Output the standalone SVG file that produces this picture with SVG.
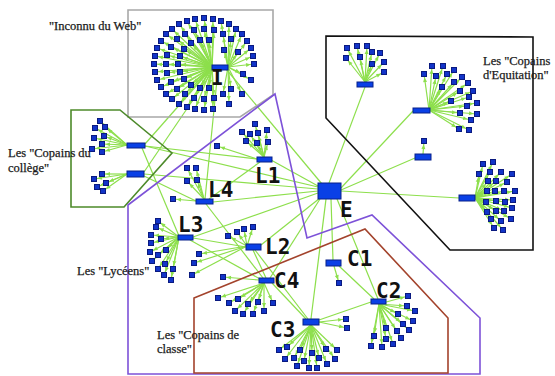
<svg xmlns="http://www.w3.org/2000/svg" width="555" height="376" viewBox="0 0 555 376">
<defs>
<style>
.le{stroke:#8ddf4c;stroke-width:1.2;fill:none;marker-end:url(#ar)}
.he{stroke:#8ddf4c;stroke-width:1.2;fill:none}
.hub{fill:#0a40e6;stroke:#08208a;stroke-width:1}
.rg{fill:none;stroke-width:1.6}
.t{font-family:"Liberation Serif","Times New Roman",serif;font-size:12.5px;fill:#1a1a1a;stroke:#1a1a1a;stroke-width:0.25}
.lb{font-family:"DejaVu Sans Mono",monospace;font-size:21px;font-weight:bold;fill:#111}
</style>
<marker id="ar" markerWidth="6" markerHeight="5" refX="8" refY="2" orient="auto" markerUnits="userSpaceOnUse" overflow="visible"><path d="M0,0L4.5,2L0,4z" fill="#8ddf4c"/></marker>
<rect id="l" x="-2.5" y="-2.5" width="5" height="5" fill="#1234c8" stroke="#0a1a80" stroke-width="1"/>
</defs>
<rect width="555" height="376" fill="#fff"/>
<g id="connectors">
<path class="he" d="M322 184L226 69"/><path class="he" d="M329 183L365 87"/><path class="he" d="M341 188L413 111"/><path class="he" d="M341 190L415 158"/><path class="he" d="M341 191L459 198"/><path class="he" d="M318 186L271 160"/><path class="he" d="M318 187L145 146"/><path class="he" d="M318 189L144 174"/><path class="he" d="M318 191L213 202"/><path class="he" d="M318 193L193 237"/><path class="he" d="M320 198L261 245"/><path class="he" d="M331 199L333 260"/><path class="he" d="M326 199L311 319"/><path class="he" d="M337 199L378 299"/><path class="he" d="M320 199L270 278"/><path class="he" d="M212 68L145 144"/><path class="he" d="M214 69L144 172"/><path class="he" d="M218 70L205 199"/><path class="he" d="M145 146L257 159"/><path class="he" d="M142 148L179 236"/><path class="he" d="M260 162L209 199"/><path class="he" d="M193 238L246 247"/><path class="he" d="M190 240L260 279"/><path class="he" d="M206 204L263 278"/><path class="he" d="M255 250L308 319"/><path class="he" d="M253 250L266 278"/><path class="he" d="M272 283L306 319"/><path class="he" d="M319 320L371 302"/><path class="he" d="M339 266L374 299"/><path class="he" d="M144 176L196 201"/>
<path class="le" d="M228 67L254 64"/><path class="le" d="M228 67L253 56"/><path class="le" d="M228 67L251 48"/><path class="le" d="M228 67L247 41"/><path class="le" d="M228 67L242 34"/><path class="le" d="M228 67L236 29"/><path class="le" d="M228 67L229 24"/><path class="le" d="M228 67L221 21"/><path class="le" d="M228 67L229 104"/><path class="le" d="M228 67L242 94"/><path class="le" d="M228 67L251 80"/><path class="le" d="M228 67L231 39"/><path class="le" d="M228 67L223 34"/><path class="le" d="M228 67L223 94"/><path class="le" d="M228 67L231 89"/><path class="le" d="M228 67L238 52"/><path class="le" d="M228 67L243 74"/><path class="le" d="M228 67L224 50"/>
<path class="le" d="M212 67L213 19"/><path class="le" d="M212 67L204 18"/><path class="le" d="M212 67L195 19"/><path class="le" d="M212 67L187 21"/><path class="le" d="M212 67L179 24"/><path class="le" d="M212 67L172 29"/><path class="le" d="M212 67L166 34"/><path class="le" d="M212 67L161 41"/><path class="le" d="M212 67L157 48"/><path class="le" d="M212 67L155 56"/><path class="le" d="M212 67L154 64"/><path class="le" d="M212 67L155 72"/><path class="le" d="M212 67L157 80"/><path class="le" d="M212 67L161 87"/><path class="le" d="M212 67L166 94"/><path class="le" d="M212 67L172 99"/><path class="le" d="M212 67L179 104"/><path class="le" d="M212 67L187 107"/><path class="le" d="M212 67L195 109"/><path class="le" d="M212 67L204 110"/><path class="le" d="M212 67L213 109"/><path class="le" d="M212 67L214 30"/><path class="le" d="M212 67L204 29"/><path class="le" d="M212 67L194 30"/><path class="le" d="M212 67L185 34"/><path class="le" d="M212 67L177 39"/><path class="le" d="M212 67L171 47"/><path class="le" d="M212 67L167 55"/><path class="le" d="M212 67L166 64"/><path class="le" d="M212 67L167 73"/><path class="le" d="M212 67L171 82"/><path class="le" d="M212 67L177 89"/><path class="le" d="M212 67L185 94"/><path class="le" d="M212 67L194 98"/><path class="le" d="M212 67L204 99"/><path class="le" d="M212 67L214 98"/><path class="le" d="M212 67L209 40"/><path class="le" d="M212 67L200 40"/><path class="le" d="M212 67L191 43"/><path class="le" d="M212 67L184 49"/><path class="le" d="M212 67L180 56"/><path class="le" d="M212 67L178 64"/><path class="le" d="M212 67L180 72"/><path class="le" d="M212 67L184 79"/><path class="le" d="M212 67L191 85"/><path class="le" d="M212 67L200 88"/><path class="le" d="M212 67L209 88"/>
<path class="le" d="M365 82L347 48"/><path class="le" d="M365 82L357 46"/><path class="le" d="M365 82L367 46"/><path class="le" d="M365 82L346 58"/><path class="le" d="M365 82L360 57"/><path class="le" d="M365 82L372 52"/><path class="le" d="M365 82L380 53"/><path class="le" d="M365 82L372 64"/><path class="le" d="M365 82L384 62"/><path class="le" d="M365 82L384 72"/>
<path class="le" d="M429 110L432 66"/><path class="le" d="M429 110L443 66"/><path class="le" d="M429 110L454 70"/><path class="le" d="M429 110L424 74"/><path class="le" d="M429 110L436 76"/><path class="le" d="M429 110L447 74"/><path class="le" d="M429 110L462 77"/><path class="le" d="M429 110L454 82"/><path class="le" d="M429 110L468 83"/><path class="le" d="M429 110L442 87"/><path class="le" d="M429 110L460 91"/><path class="le" d="M429 110L473 91"/><path class="le" d="M429 110L469 97"/><path class="le" d="M429 110L451 101"/><path class="le" d="M429 110L477 103"/><path class="le" d="M429 110L467 106"/><path class="le" d="M429 110L460 113"/><path class="le" d="M429 110L477 114"/><path class="le" d="M429 110L471 120"/><path class="le" d="M429 110L459 129"/><path class="le" d="M429 110L469 130"/>
<path class="le" d="M423 154L424 141"/>
<path class="le" d="M475 198L483 164"/><path class="le" d="M475 198L493 162"/><path class="le" d="M475 198L479 174"/><path class="le" d="M475 198L490 172"/><path class="le" d="M475 198L501 172"/><path class="le" d="M475 198L512 174"/><path class="le" d="M475 198L488 181"/><path class="le" d="M475 198L496 181"/><path class="le" d="M475 198L507 182"/><path class="le" d="M475 198L487 191"/><path class="le" d="M475 198L495 191"/><path class="le" d="M475 198L504 191"/><path class="le" d="M475 198L515 191"/><path class="le" d="M475 198L486 202"/><path class="le" d="M475 198L496 201"/><path class="le" d="M475 198L505 202"/><path class="le" d="M475 198L513 200"/><path class="le" d="M475 198L487 212"/><path class="le" d="M475 198L496 211"/><path class="le" d="M475 198L504 211"/><path class="le" d="M475 198L512 208"/><path class="le" d="M475 198L491 219"/><path class="le" d="M475 198L501 221"/><path class="le" d="M475 198L511 219"/><path class="le" d="M475 198L494 228"/><path class="le" d="M475 198L503 230"/>
<path class="le" d="M127 145L100 121"/><path class="le" d="M127 145L95 128"/><path class="le" d="M127 145L105 127"/><path class="le" d="M127 145L94 138"/><path class="le" d="M127 145L104 136"/><path class="le" d="M127 145L102 144"/><path class="le" d="M127 145L92 149"/><path class="le" d="M127 145L102 152"/>
<path class="le" d="M127 174L102 174"/><path class="le" d="M127 174L94 179"/><path class="le" d="M127 174L106 183"/><path class="le" d="M127 174L97 187"/><path class="le" d="M127 174L103 191"/>
<path class="le" d="M264 157L255 124"/><path class="le" d="M264 157L242 132"/><path class="le" d="M264 157L250 134"/><path class="le" d="M264 157L258 133"/><path class="le" d="M264 157L267 130"/><path class="le" d="M264 157L246 141"/><path class="le" d="M264 157L257 143"/><path class="le" d="M264 157L268 142"/><path class="le" d="M257 159L217 146"/>
<path class="le" d="M204 199L187 168"/><path class="le" d="M204 199L196 168"/><path class="le" d="M204 199L187 181"/><path class="le" d="M204 199L197 180"/><path class="le" d="M196 201L173 199"/>
<path class="le" d="M179 237L158 221"/><path class="le" d="M179 237L156 227"/><path class="le" d="M179 237L151 235"/><path class="le" d="M179 237L161 239"/><path class="le" d="M179 237L151 243"/><path class="le" d="M179 237L166 250"/><path class="le" d="M179 237L150 252"/><path class="le" d="M179 237L158 255"/><path class="le" d="M179 237L152 261"/><path class="le" d="M179 237L165 264"/><path class="le" d="M179 237L158 269"/><path class="le" d="M179 237L173 269"/><path class="le" d="M179 237L164 275"/><path class="le" d="M179 237L171 280"/>
<path class="le" d="M247 246L228 236"/><path class="le" d="M247 246L237 232"/><path class="le" d="M247 246L244 229"/><path class="le" d="M247 246L253 227"/><path class="le" d="M247 246L199 254"/><path class="le" d="M247 246L194 263"/><path class="le" d="M247 246L192 275"/>
<path class="le" d="M259 280L223 277"/><path class="le" d="M264 283L218 298"/><path class="le" d="M264 283L229 303"/><path class="le" d="M264 283L238 299"/><path class="le" d="M264 283L248 304"/><path class="le" d="M264 283L258 302"/><path class="le" d="M264 283L273 303"/><path class="le" d="M264 283L235 311"/><path class="le" d="M264 283L243 314"/><path class="le" d="M264 283L253 314"/><path class="le" d="M264 283L264 311"/>
<path class="le" d="M334 266L339 283"/>
<path class="le" d="M379 304L408 296"/><path class="le" d="M379 304L407 306"/><path class="le" d="M379 304L415 311"/><path class="le" d="M379 304L398 314"/><path class="le" d="M379 304L413 321"/><path class="le" d="M379 304L403 324"/><path class="le" d="M379 304L409 330"/><path class="le" d="M379 304L386 328"/><path class="le" d="M379 304L397 331"/><path class="le" d="M379 304L374 336"/><path class="le" d="M379 304L386 339"/><path class="le" d="M379 304L401 338"/><path class="le" d="M379 304L371 346"/><path class="le" d="M379 304L382 347"/><path class="le" d="M379 304L393 344"/>
<path class="le" d="M311 325L279 350"/><path class="le" d="M311 325L287 347"/><path class="le" d="M311 325L300 350"/><path class="le" d="M311 325L312 353"/><path class="le" d="M311 325L326 349"/><path class="le" d="M311 325L337 350"/><path class="le" d="M311 325L285 359"/><path class="le" d="M311 325L294 358"/><path class="le" d="M311 325L304 361"/><path class="le" d="M311 325L319 358"/><path class="le" d="M311 325L335 359"/><path class="le" d="M311 325L297 366"/><path class="le" d="M311 325L309 368"/><path class="le" d="M311 325L317 368"/><path class="le" d="M311 325L327 364"/><path class="le" d="M319 322L346 319"/><path class="le" d="M319 322L347 328"/>
</g>
<g id="regions">
<polygon id="r-web" class="rg" stroke="#a8a8a8" points="128,10 273,10 273,95 240,117 128,117"/>
<polygon id="r-equitation" class="rg" stroke="#111" stroke-width="2" points="326,36 533,37 533,250 450,250 326,118"/>
<polygon id="r-college" class="rg" stroke="#4d8a2a" points="71,110 120,110 172,153 124,207 71,207"/>
<polygon id="r-lycee" class="rg" stroke="#7d52d8" points="128,205 275,94 307,238 372,215 480,318 480,374 128,374"/>
<polygon id="r-classe" class="rg" stroke="#a3432c" points="194,298 365,229 448,318 448,373 194,373"/>
</g>
<g id="hubs">
<g id="hub-I"><rect class="hub" x="212" y="65" width="16" height="5"/></g>
<g id="hub-E"><rect class="hub" x="318" y="183" width="23" height="16"/></g>
<g id="hub-col1"><rect class="hub" x="127" y="143" width="18" height="5"/></g>
<g id="hub-col2"><rect class="hub" x="127" y="171" width="17" height="6"/></g>
<g id="hub-eq1"><rect class="hub" x="357" y="82" width="16" height="5"/></g>
<g id="hub-eq2"><rect class="hub" x="413" y="108" width="17" height="5"/></g>
<g id="hub-eq3"><rect class="hub" x="415" y="154" width="16" height="6"/></g>
<g id="hub-eq4"><rect class="hub" x="459" y="195" width="16" height="6"/></g>
<g id="hub-L1"><rect class="hub" x="257" y="157" width="15" height="5"/></g>
<g id="hub-L4"><rect class="hub" x="196" y="199" width="17" height="5"/></g>
<g id="hub-L3"><rect class="hub" x="178" y="235" width="15" height="5"/></g>
<g id="hub-L2"><rect class="hub" x="246" y="244" width="15" height="6"/></g>
<g id="hub-C4"><rect class="hub" x="259" y="278" width="15" height="5"/></g>
<g id="hub-C1"><rect class="hub" x="326" y="260" width="15" height="6"/></g>
<g id="hub-C2"><rect class="hub" x="371" y="299" width="15" height="5"/></g>
<g id="hub-C3"><rect class="hub" x="303" y="319" width="16" height="6"/></g>
</g>
<g id="leaves">
<g id="i1"><use href="#l" x="254" y="64"/></g><g id="i2"><use href="#l" x="253" y="56"/></g><g id="i3"><use href="#l" x="251" y="48"/></g><g id="i4"><use href="#l" x="247" y="41"/></g><g id="i5"><use href="#l" x="242" y="34"/></g><g id="i6"><use href="#l" x="236" y="29"/></g><g id="i7"><use href="#l" x="229" y="24"/></g><g id="i8"><use href="#l" x="221" y="21"/></g><g id="i9"><use href="#l" x="229" y="104"/></g><g id="i10"><use href="#l" x="242" y="94"/></g><g id="i11"><use href="#l" x="251" y="80"/></g><g id="i12"><use href="#l" x="231" y="39"/></g><g id="i13"><use href="#l" x="223" y="34"/></g><g id="i14"><use href="#l" x="223" y="94"/></g><g id="i15"><use href="#l" x="231" y="89"/></g><g id="i16"><use href="#l" x="238" y="52"/></g><g id="i17"><use href="#l" x="243" y="74"/></g><g id="i18"><use href="#l" x="224" y="50"/></g>
<g id="i19"><use href="#l" x="213" y="19"/></g><g id="i20"><use href="#l" x="204" y="18"/></g><g id="i21"><use href="#l" x="195" y="19"/></g><g id="i22"><use href="#l" x="187" y="21"/></g><g id="i23"><use href="#l" x="179" y="24"/></g><g id="i24"><use href="#l" x="172" y="29"/></g><g id="i25"><use href="#l" x="166" y="34"/></g><g id="i26"><use href="#l" x="161" y="41"/></g><g id="i27"><use href="#l" x="157" y="48"/></g><g id="i28"><use href="#l" x="155" y="56"/></g><g id="i29"><use href="#l" x="154" y="64"/></g><g id="i30"><use href="#l" x="155" y="72"/></g><g id="i31"><use href="#l" x="157" y="80"/></g><g id="i32"><use href="#l" x="161" y="87"/></g><g id="i33"><use href="#l" x="166" y="94"/></g><g id="i34"><use href="#l" x="172" y="99"/></g><g id="i35"><use href="#l" x="179" y="104"/></g><g id="i36"><use href="#l" x="187" y="107"/></g><g id="i37"><use href="#l" x="195" y="109"/></g><g id="i38"><use href="#l" x="204" y="110"/></g><g id="i39"><use href="#l" x="213" y="109"/></g>
<g id="i40"><use href="#l" x="214" y="30"/></g><g id="i41"><use href="#l" x="204" y="29"/></g><g id="i42"><use href="#l" x="194" y="30"/></g><g id="i43"><use href="#l" x="185" y="34"/></g><g id="i44"><use href="#l" x="177" y="39"/></g><g id="i45"><use href="#l" x="171" y="47"/></g><g id="i46"><use href="#l" x="167" y="55"/></g><g id="i47"><use href="#l" x="166" y="64"/></g><g id="i48"><use href="#l" x="167" y="73"/></g><g id="i49"><use href="#l" x="171" y="82"/></g><g id="i50"><use href="#l" x="177" y="89"/></g><g id="i51"><use href="#l" x="185" y="94"/></g><g id="i52"><use href="#l" x="194" y="98"/></g><g id="i53"><use href="#l" x="204" y="99"/></g><g id="i54"><use href="#l" x="214" y="98"/></g>
<g id="i55"><use href="#l" x="209" y="40"/></g><g id="i56"><use href="#l" x="200" y="40"/></g><g id="i57"><use href="#l" x="191" y="43"/></g><g id="i58"><use href="#l" x="184" y="49"/></g><g id="i59"><use href="#l" x="180" y="56"/></g><g id="i60"><use href="#l" x="178" y="64"/></g><g id="i61"><use href="#l" x="180" y="72"/></g><g id="i62"><use href="#l" x="184" y="79"/></g><g id="i63"><use href="#l" x="191" y="85"/></g><g id="i64"><use href="#l" x="200" y="88"/></g><g id="i65"><use href="#l" x="209" y="88"/></g>
<g id="q1"><use href="#l" x="347" y="48"/></g><g id="q2"><use href="#l" x="357" y="46"/></g><g id="q3"><use href="#l" x="367" y="46"/></g><g id="q4"><use href="#l" x="346" y="58"/></g><g id="q5"><use href="#l" x="360" y="57"/></g><g id="q6"><use href="#l" x="372" y="52"/></g><g id="q7"><use href="#l" x="380" y="53"/></g><g id="q8"><use href="#l" x="372" y="64"/></g><g id="q9"><use href="#l" x="384" y="62"/></g><g id="q10"><use href="#l" x="384" y="72"/></g>
<g id="r1"><use href="#l" x="432" y="66"/></g><g id="r2"><use href="#l" x="443" y="66"/></g><g id="r3"><use href="#l" x="454" y="70"/></g><g id="r4"><use href="#l" x="424" y="74"/></g><g id="r5"><use href="#l" x="436" y="76"/></g><g id="r6"><use href="#l" x="447" y="74"/></g><g id="r7"><use href="#l" x="462" y="77"/></g><g id="r8"><use href="#l" x="454" y="82"/></g><g id="r9"><use href="#l" x="468" y="83"/></g><g id="r10"><use href="#l" x="442" y="87"/></g><g id="r11"><use href="#l" x="460" y="91"/></g><g id="r12"><use href="#l" x="473" y="91"/></g><g id="r13"><use href="#l" x="469" y="97"/></g><g id="r14"><use href="#l" x="451" y="101"/></g><g id="r15"><use href="#l" x="477" y="103"/></g><g id="r16"><use href="#l" x="467" y="106"/></g><g id="r17"><use href="#l" x="460" y="113"/></g><g id="r18"><use href="#l" x="477" y="114"/></g><g id="r19"><use href="#l" x="471" y="120"/></g><g id="r20"><use href="#l" x="459" y="129"/></g><g id="r21"><use href="#l" x="469" y="130"/></g>
<g id="s1"><use href="#l" x="424" y="141"/></g>
<g id="t1"><use href="#l" x="483" y="164"/></g><g id="t2"><use href="#l" x="493" y="162"/></g><g id="t3"><use href="#l" x="479" y="174"/></g><g id="t4"><use href="#l" x="490" y="172"/></g><g id="t5"><use href="#l" x="501" y="172"/></g><g id="t6"><use href="#l" x="512" y="174"/></g><g id="t7"><use href="#l" x="488" y="181"/></g><g id="t8"><use href="#l" x="496" y="181"/></g><g id="t9"><use href="#l" x="507" y="182"/></g><g id="t10"><use href="#l" x="487" y="191"/></g><g id="t11"><use href="#l" x="495" y="191"/></g><g id="t12"><use href="#l" x="504" y="191"/></g><g id="t13"><use href="#l" x="515" y="191"/></g><g id="t14"><use href="#l" x="486" y="202"/></g><g id="t15"><use href="#l" x="496" y="201"/></g><g id="t16"><use href="#l" x="505" y="202"/></g><g id="t17"><use href="#l" x="513" y="200"/></g><g id="t18"><use href="#l" x="487" y="212"/></g><g id="t19"><use href="#l" x="496" y="211"/></g><g id="t20"><use href="#l" x="504" y="211"/></g><g id="t21"><use href="#l" x="512" y="208"/></g><g id="t22"><use href="#l" x="491" y="219"/></g><g id="t23"><use href="#l" x="501" y="221"/></g><g id="t24"><use href="#l" x="511" y="219"/></g><g id="t25"><use href="#l" x="494" y="228"/></g><g id="t26"><use href="#l" x="503" y="230"/></g>
<g id="k1"><use href="#l" x="100" y="121"/></g><g id="k2"><use href="#l" x="95" y="128"/></g><g id="k3"><use href="#l" x="105" y="127"/></g><g id="k4"><use href="#l" x="94" y="138"/></g><g id="k5"><use href="#l" x="104" y="136"/></g><g id="k6"><use href="#l" x="102" y="144"/></g><g id="k7"><use href="#l" x="92" y="149"/></g><g id="k8"><use href="#l" x="102" y="152"/></g>
<g id="m1"><use href="#l" x="102" y="174"/></g><g id="m2"><use href="#l" x="94" y="179"/></g><g id="m3"><use href="#l" x="106" y="183"/></g><g id="m4"><use href="#l" x="97" y="187"/></g><g id="m5"><use href="#l" x="103" y="191"/></g>
<g id="a1"><use href="#l" x="255" y="124"/></g><g id="a2"><use href="#l" x="242" y="132"/></g><g id="a3"><use href="#l" x="250" y="134"/></g><g id="a4"><use href="#l" x="258" y="133"/></g><g id="a5"><use href="#l" x="267" y="130"/></g><g id="a6"><use href="#l" x="246" y="141"/></g><g id="a7"><use href="#l" x="257" y="143"/></g><g id="a8"><use href="#l" x="268" y="142"/></g><g id="a9"><use href="#l" x="217" y="146"/></g>
<g id="d1"><use href="#l" x="187" y="168"/></g><g id="d2"><use href="#l" x="196" y="168"/></g><g id="d3"><use href="#l" x="187" y="181"/></g><g id="d4"><use href="#l" x="197" y="180"/></g><g id="d5"><use href="#l" x="173" y="199"/></g>
<g id="c1"><use href="#l" x="158" y="221"/></g><g id="c2"><use href="#l" x="156" y="227"/></g><g id="c3"><use href="#l" x="151" y="235"/></g><g id="c4"><use href="#l" x="161" y="239"/></g><g id="c5"><use href="#l" x="151" y="243"/></g><g id="c6"><use href="#l" x="166" y="250"/></g><g id="c7"><use href="#l" x="150" y="252"/></g><g id="c8"><use href="#l" x="158" y="255"/></g><g id="c9"><use href="#l" x="152" y="261"/></g><g id="c10"><use href="#l" x="165" y="264"/></g><g id="c11"><use href="#l" x="158" y="269"/></g><g id="c12"><use href="#l" x="173" y="269"/></g><g id="c13"><use href="#l" x="164" y="275"/></g><g id="c14"><use href="#l" x="171" y="280"/></g>
<g id="b1"><use href="#l" x="228" y="236"/></g><g id="b2"><use href="#l" x="237" y="232"/></g><g id="b3"><use href="#l" x="244" y="229"/></g><g id="b4"><use href="#l" x="253" y="227"/></g><g id="b5"><use href="#l" x="199" y="254"/></g><g id="b6"><use href="#l" x="194" y="263"/></g><g id="b7"><use href="#l" x="192" y="275"/></g>
<g id="f1"><use href="#l" x="223" y="277"/></g><g id="f2"><use href="#l" x="218" y="298"/></g><g id="f3"><use href="#l" x="229" y="303"/></g><g id="f4"><use href="#l" x="238" y="299"/></g><g id="f5"><use href="#l" x="248" y="304"/></g><g id="f6"><use href="#l" x="258" y="302"/></g><g id="f7"><use href="#l" x="273" y="303"/></g><g id="f8"><use href="#l" x="235" y="311"/></g><g id="f9"><use href="#l" x="243" y="314"/></g><g id="f10"><use href="#l" x="253" y="314"/></g><g id="f11"><use href="#l" x="264" y="311"/></g>
<g id="g1"><use href="#l" x="339" y="283"/></g>
<g id="h1"><use href="#l" x="408" y="296"/></g><g id="h2"><use href="#l" x="407" y="306"/></g><g id="h3"><use href="#l" x="415" y="311"/></g><g id="h4"><use href="#l" x="398" y="314"/></g><g id="h5"><use href="#l" x="413" y="321"/></g><g id="h6"><use href="#l" x="403" y="324"/></g><g id="h7"><use href="#l" x="409" y="330"/></g><g id="h8"><use href="#l" x="386" y="328"/></g><g id="h9"><use href="#l" x="397" y="331"/></g><g id="h10"><use href="#l" x="374" y="336"/></g><g id="h11"><use href="#l" x="386" y="339"/></g><g id="h12"><use href="#l" x="401" y="338"/></g><g id="h13"><use href="#l" x="371" y="346"/></g><g id="h14"><use href="#l" x="382" y="347"/></g><g id="h15"><use href="#l" x="393" y="344"/></g>
<g id="j1"><use href="#l" x="279" y="350"/></g><g id="j2"><use href="#l" x="287" y="347"/></g><g id="j3"><use href="#l" x="300" y="350"/></g><g id="j4"><use href="#l" x="312" y="353"/></g><g id="j5"><use href="#l" x="326" y="349"/></g><g id="j6"><use href="#l" x="337" y="350"/></g><g id="j7"><use href="#l" x="285" y="359"/></g><g id="j8"><use href="#l" x="294" y="358"/></g><g id="j9"><use href="#l" x="304" y="361"/></g><g id="j10"><use href="#l" x="319" y="358"/></g><g id="j11"><use href="#l" x="335" y="359"/></g><g id="j12"><use href="#l" x="297" y="366"/></g><g id="j13"><use href="#l" x="309" y="368"/></g><g id="j14"><use href="#l" x="317" y="368"/></g><g id="j15"><use href="#l" x="327" y="364"/></g><g id="j16"><use href="#l" x="346" y="319"/></g><g id="j17"><use href="#l" x="347" y="328"/></g>
</g>
<g id="labels">
<text class="lb" x="211" y="85" font-size="14">I</text>
<text class="lb" x="340" y="217" font-size="19">E</text>
<text class="lb" x="255" y="183">L1</text>
<text class="lb" x="208" y="196.5">L4</text>
<text class="lb" x="178" y="232">L3</text>
<text class="lb" x="265" y="254">L2</text>
<text class="lb" x="274" y="287.5">C4</text>
<text class="lb" x="347" y="266" font-size="18">C1</text>
<text class="lb" x="376" y="298">C2</text>
<text class="lb" x="270" y="336.5">C3</text>
</g>
<g id="titles">
<text class="t" x="49" y="29.5">"Inconnu du Web"</text>
<text class="t" x="8" y="157">Les "Copains du</text>
<text class="t" x="8" y="171.5">collège"</text>
<text class="t" x="483" y="64.5">Les "Copains</text>
<text class="t" x="483" y="79">d'Equitation"</text>
<text class="t" x="77" y="274.5">Les "Lycéens"</text>
<text class="t" x="157" y="338.5">Les "Copains de</text>
<text class="t" x="157" y="353">classe"</text>
</g>
</svg>
